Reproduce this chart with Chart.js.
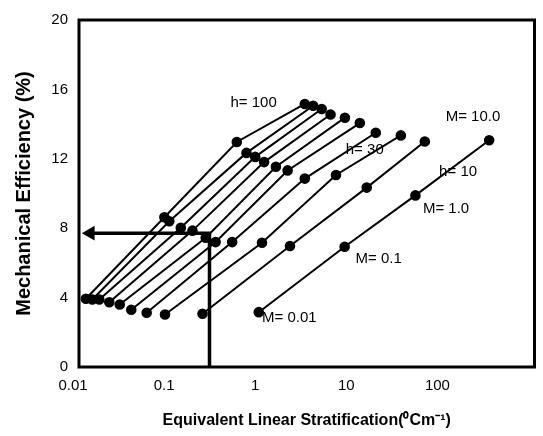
<!DOCTYPE html>
<html>
<head>
<meta charset="utf-8">
<script src="https://cdn.jsdelivr.net/npm/chart.js@4.4.1/dist/chart.umd.min.js"></script>
<style>
  html, body { margin: 0; padding: 0; background: #ffffff; }
  #wrap { width: 543px; height: 436px; }
</style>
</head>
<body>
<div id="wrap"><canvas id="c" width="543" height="436"></canvas></div>
<script>
// ---- Data ----
// Each curve is one value of h; its four points are M = 0.01, 0.1, 1.0, 10.0
const hValues = [10, 20, 30, 40, 50, 60, 70, 80, 90, 100];
const strat_h10  = [0.94, 8.24, 49.3, 318];
const eff_h10    = [3.16, 6.93, 9.89, 13.07];
const strat_h20  = [0.227, 2.07, 14.4, 62.5];
const eff_h20    = [3.07, 6.97, 10.34, 13.0];
const strat_h30  = [0.0879, 1.02, 6.62, 34.1];
const eff_h30    = [3.03, 7.16, 11.07, 13.35];
const strat_h40  = [0.0553, 0.48, 3.01, 18.1];
const eff_h40    = [3.13, 7.2, 10.86, 13.5];
const strat_h50  = [0.0375, 0.316, 1.95, 12.1];
const eff_h50    = [3.30, 7.2, 11.33, 14.06];
const strat_h60  = [0.028, 0.246, 1.45, 8.3];
const eff_h60    = [3.6, 7.45, 11.54, 14.37];
const strat_h70  = [0.0215, 0.176, 1.076, 5.77];
const eff_h70    = [3.73, 7.86, 11.81, 14.55];
const strat_h80  = [0.0167, 0.131, 0.859, 4.61];
const eff_h80    = [3.89, 8.03, 12.11, 14.87];
const strat_h90  = [0.014, 0.098, 0.689, 3.72];
const eff_h90    = [3.89, 8.40, 12.34, 15.06];
const strat_h100 = [0.0119, 0.0865, 0.54, 3.01];
const eff_h100   = [3.93, 8.63, 12.97, 15.16];

const stratSeries = [strat_h10, strat_h20, strat_h30, strat_h40, strat_h50, strat_h60, strat_h70, strat_h80, strat_h90, strat_h100];
const effSeries   = [eff_h10, eff_h20, eff_h30, eff_h40, eff_h50, eff_h60, eff_h70, eff_h80, eff_h90, eff_h100];

// Read-off guide (arrow): from x = 0.27 up to 7.7 %, then to the y axis
const guideX = [0.2707, 0.2707, 0.01333];
const guideY = [0, 7.71, 7.71];

// Axis ticks
const xTickValues = [0.01, 0.1, 1, 10, 100];
const xTickLabels = ['0.01', '0.1', '1', '10', '100'];
const yTickValues = [0, 4, 8, 12, 16, 20];

// In-plot text labels [text, x, y]
const curveLabels = [
  ['h= 100', 0.826, 15.2],
  ['h= 30', 13.7, 12.51],
  ['h= 10', 145, 11.26],
  ['M= 10.0', 211, 14.4],
  ['M= 1.0', 107, 9.09],
  ['M= 0.1', 19.5, 6.23],
  ['M= 0.01', 2.04, 2.86]
];

const FONT = '"Liberation Sans", Arial, Helvetica, sans-serif';

const datasets = hValues.map((h, i) => ({
  label: 'h= ' + h,
  data: stratSeries[i].map((x, j) => ({ x: x, y: effSeries[i][j] })),
  borderColor: '#000',
  backgroundColor: '#000',
  borderWidth: 2,
  pointRadius: 4.3,
  pointHoverRadius: 4.3,
  pointBackgroundColor: '#000',
  pointBorderColor: '#000',
  showLine: true,
  tension: 0
}));

datasets.push({
  label: 'guide',
  data: guideX.map((x, j) => ({ x: x, y: guideY[j] })),
  borderColor: '#000',
  backgroundColor: '#000',
  borderWidth: 3.5,
  showLine: true,
  tension: 0,
  pointStyle: 'triangle',
  rotation: -90,
  pointRadius: (ctx) => (ctx.dataIndex === guideX.length - 1 ? 8.5 : 0),
  pointHoverRadius: (ctx) => (ctx.dataIndex === guideX.length - 1 ? 8.5 : 0),
  pointBackgroundColor: '#000',
  pointBorderColor: '#000',
  pointBorderWidth: 0
});

const framePlugin = {
  id: 'frameAndLabels',
  afterDatasetsDraw(chart) {
    const { ctx, chartArea: a, scales } = chart;
    ctx.save();
    ctx.strokeStyle = '#000';
    ctx.lineWidth = 3;
    ctx.strokeRect(a.left, a.top, a.right - a.left, a.bottom - a.top);
    ctx.fillStyle = '#000';
    ctx.font = '15px ' + FONT;
    ctx.textAlign = 'center';
    ctx.textBaseline = 'middle';
    curveLabels.forEach(([t, x, y]) => {
      ctx.fillText(t, scales.x.getPixelForValue(x), scales.y.getPixelForValue(y));
    });
    ctx.restore();
  }
};

new Chart(document.getElementById('c'), {
  type: 'scatter',
  data: { datasets: datasets },
  plugins: [framePlugin],
  options: {
    responsive: false,
    animation: false,
    devicePixelRatio: 1,
    layout: { padding: { top: 17, right: 5, left: 0, bottom: 0 } },
    plugins: { legend: { display: false }, tooltip: { enabled: false } },
    scales: {
      x: {
        type: 'logarithmic',
        min: 0.01,
        max: 1000,
        grid: { display: false, drawTicks: false },
        border: { display: false },
        afterBuildTicks: (scale) => { scale.ticks = xTickValues.map(v => ({ value: v })); },
        afterFit: (scale) => { scale.height = 69; },
        ticks: {
          autoSkip: false,
          maxRotation: 0,
          padding: 10,
          labelOffset: -6,
          color: '#000',
          font: { family: FONT, size: 15 },
          callback: (v) => { const k = xTickValues.indexOf(v); return k >= 0 ? xTickLabels[k] : ''; }
        },
        title: {
          display: true,
          text: 'Equivalent Linear Stratification(\u2070Cm\u207B\u00B9)',
          color: '#000',
          font: { family: FONT, size: 16, weight: 'bold' },
          padding: { top: 6, bottom: 6 }
        }
      },
      y: {
        min: 0,
        max: 20,
        grid: { display: false, drawTicks: false },
        border: { display: false },
        afterBuildTicks: (scale) => { scale.ticks = yTickValues.map(v => ({ value: v })); },
        afterFit: (scale) => { scale.width = 79; },
        ticks: {
          padding: 11,
          color: '#000',
          font: { family: FONT, size: 15 }
        },
        title: {
          display: true,
          text: 'Mechanical Efficiency (%)',
          color: '#000',
          font: { family: FONT, size: 20, weight: 'bold' },
          padding: { top: 12, bottom: 12 }
        }
      }
    }
  }
});
</script>
</body>
</html>
